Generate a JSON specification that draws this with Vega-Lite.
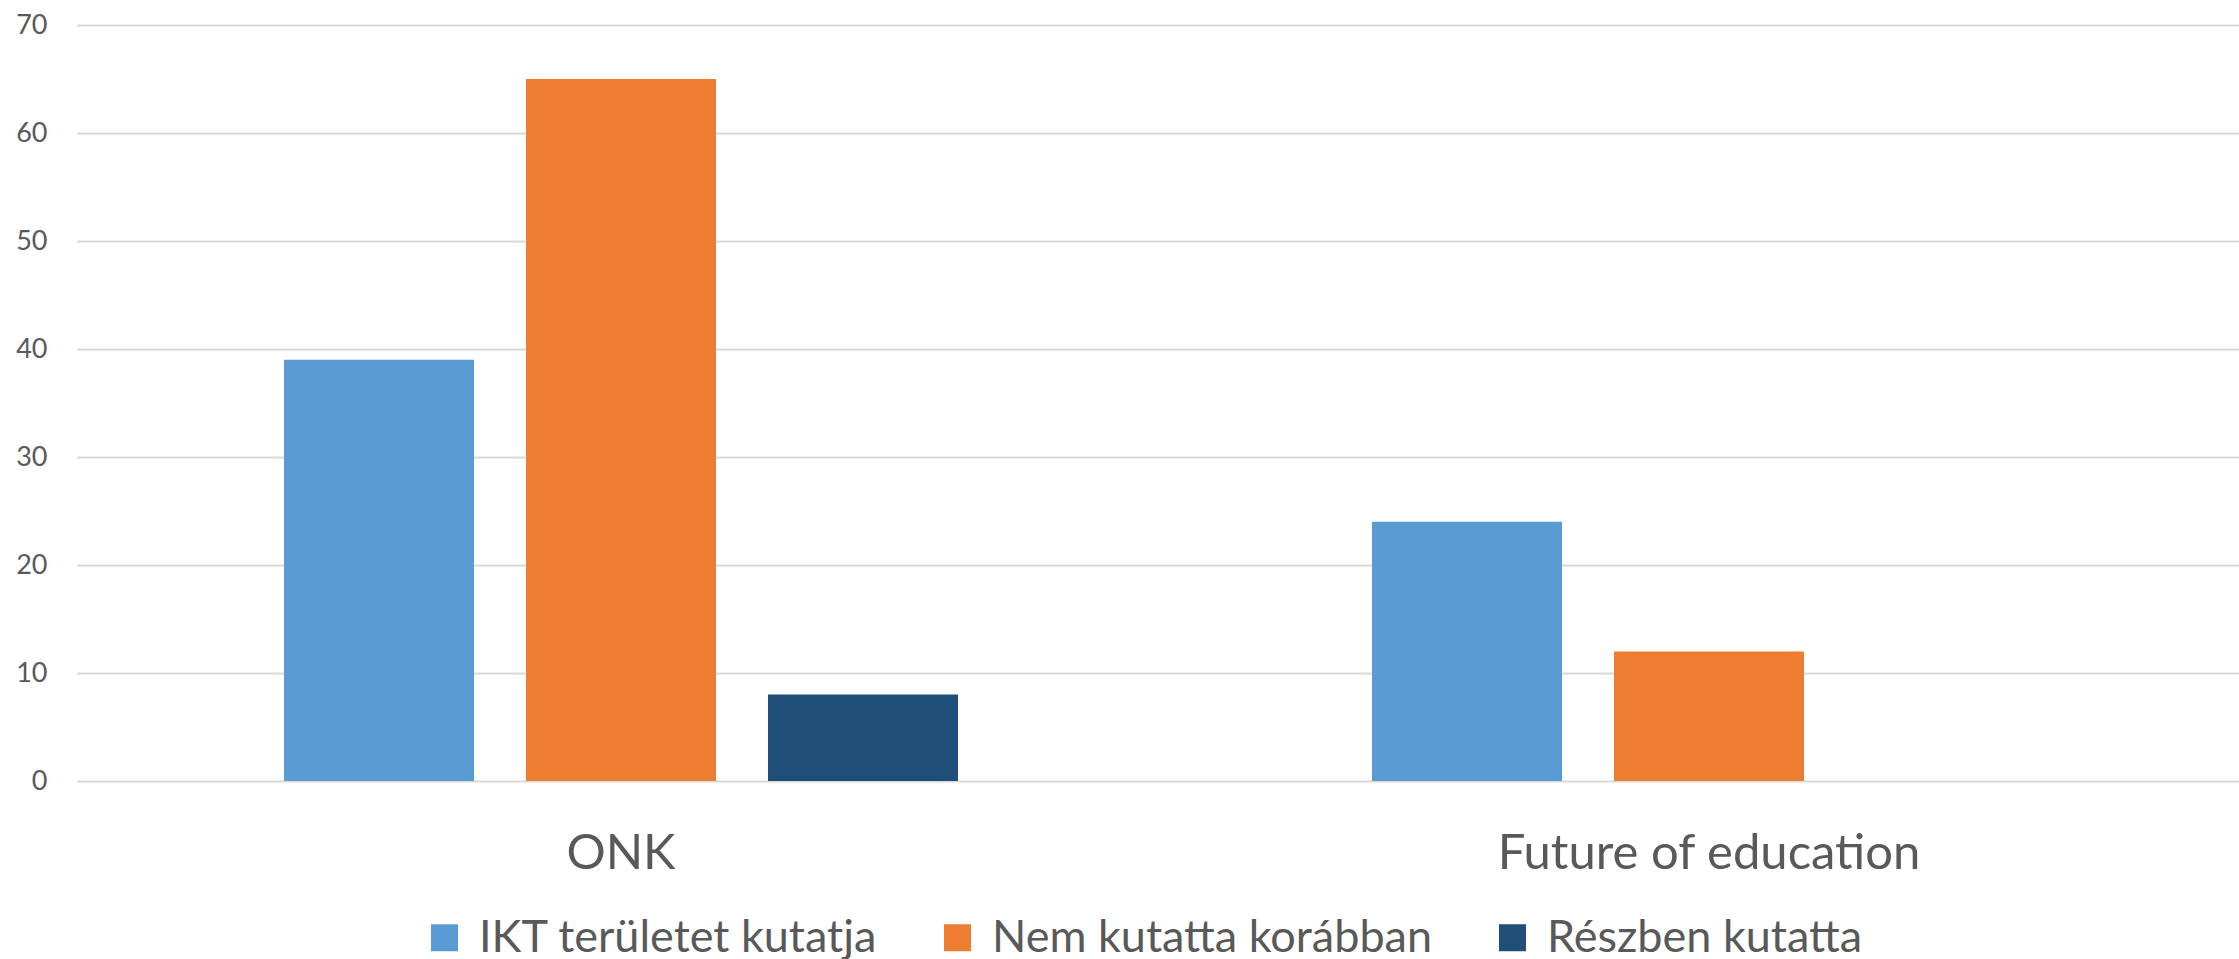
{
  "$schema": "https://vega.github.io/schema/vega-lite/v6.json",
  "autosize": {"type": "none"},
  "padding": {"left": 77, "top": 25, "right": 0, "bottom": 178},
  "width": 2162,
  "height": 756,
  "background": "#ffffff",
  "config": {
    "view": {"stroke": null},
    "font": "Lato"
  },
  "data": {
    "values": [
      {"kategoria": "ONK", "csoport": "IKT területet kutatja", "ertek": 39},
      {"kategoria": "ONK", "csoport": "Nem kutatta korábban", "ertek": 65},
      {"kategoria": "ONK", "csoport": "Részben kutatta", "ertek": 8},
      {"kategoria": "Future of education", "csoport": "IKT területet kutatja", "ertek": 24},
      {"kategoria": "Future of education", "csoport": "Nem kutatta korábban", "ertek": 12}
    ]
  },
  "mark": {"type": "bar"},
  "encoding": {
    "x": {
      "field": "kategoria",
      "type": "nominal",
      "sort": ["ONK", "Future of education"],
      "scale": {"paddingInner": 0.3805, "paddingOuter": 0.1838, "align": 0.5175},
      "axis": {
        "title": null,
        "labelAngle": 0,
        "labelFontSize": 49,
        "labelColor": "#595959",
        "labelPadding": 48,
        "labelLimit": 0,
        "domain": false,
        "ticks": false
      }
    },
    "xOffset": {
      "field": "csoport",
      "type": "nominal",
      "sort": ["IKT területet kutatja", "Nem kutatta korábban", "Részben kutatta"],
      "scale": {"paddingInner": 0.2149, "paddingOuter": 0}
    },
    "y": {
      "field": "ertek",
      "type": "quantitative",
      "scale": {"domain": [0, 70], "nice": false},
      "axis": {
        "title": null,
        "values": [0, 10, 20, 30, 40, 50, 60, 70],
        "labelFontSize": 27,
        "labelColor": "#595959",
        "labelPadding": 30,
        "domain": false,
        "ticks": false,
        "gridColor": "#d9d9d9",
        "gridWidth": 2
      }
    },
    "color": {
      "field": "csoport",
      "type": "nominal",
      "scale": {
        "domain": ["IKT területet kutatja", "Nem kutatta korábban", "Részben kutatta"],
        "range": ["#5B9BD5", "#ED7D31", "#1F4E79"]
      },
      "legend": {
        "title": null,
        "orient": "none",
        "direction": "horizontal",
        "legendX": 345,
        "legendY": 890,
        "symbolType": "square",
        "symbolSize": 729,
        "symbolStrokeWidth": 0,
        "labelFontSize": 45,
        "labelLimit": 0,
        "labelColor": "#595959",
        "labelOffset": 12,
        "columnPadding": 57,
        "padding": 0
      }
    }
  }
}
